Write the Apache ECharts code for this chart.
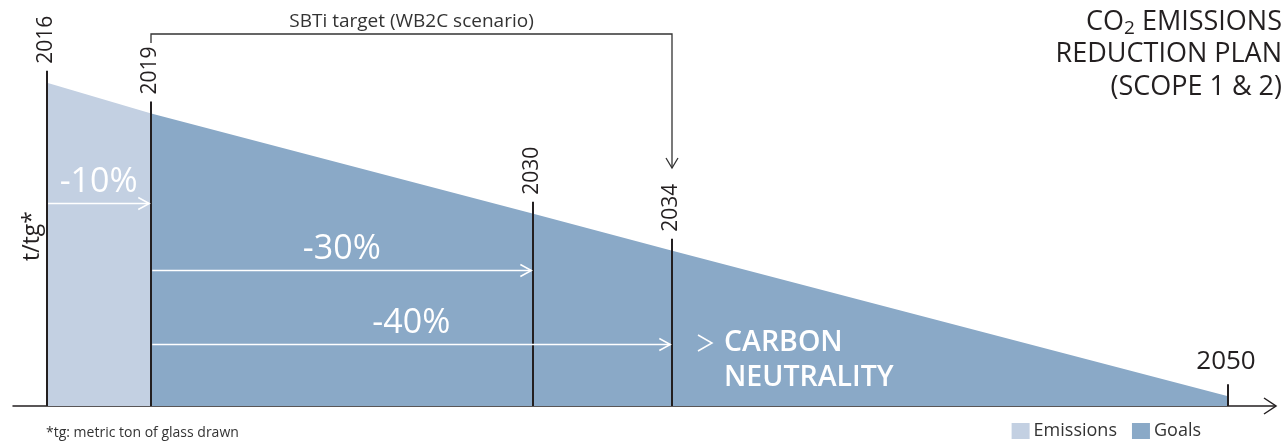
<!DOCTYPE html>
<html>
<head>
<meta charset="utf-8">
<title>CO2 emissions reduction plan</title>
<script src="https://cdn.jsdelivr.net/npm/echarts@6/dist/echarts.min.js"></script>
<style>
  html, body { margin: 0; padding: 0; background: #ffffff; }
  #chart { width: 1288px; height: 444px; }
</style>
</head>
<body>
<div id="chart"></div>
<script>
// Emissions intensity (t/tg), indexed to 2016 = 100
const emissionYears = [2016, 2019];
const emissionValues = [100, 90.5];
// Reduction goals from 2019 to carbon neutrality
const goalYears = [2019, 2030, 2034, 2050];
const goalValues = [90.5, 59.5, 48, 3];

// Milestone years drawn as vertical rules
const milestoneYears = [2016, 2019, 2030, 2034, 2050];
const milestoneLabels = ['2016', '2019', '2030', '2034', '2050'];

// Reduction arrows: start year, end year, label
const reductionFrom = [2016, 2019, 2019];
const reductionTo = [2019, 2030, 2034];
const reductionLabels = ['-10%', '-30%', '-40%'];

const seriesNames = ['Emissions', 'Goals'];
const targetLabel = 'SBTi target (WB2C scenario)';
const targetFrom = 2019;
const targetTo = 2034;
const neutralityLines = ['CARBON', 'NEUTRALITY'];
const yAxisTitle = 't/tg*';
const footnote = '*tg: metric ton of glass drawn';

// ---- styling / layout ----
const FONT = '"Open Sans", "Noto Sans", sans-serif';
const INK = '#231f20';
const LIGHT = '#c3d0e2';
const DARK = '#8aa9c7';
const GRID = { left: 13, right: 13, top: 2, bottom: 38 };
const ARROW_LEVELS = [62.8, 42.1, 19.2];   // heights of the reduction arrows (axis units)
const RULE_OVERHANG = 12;                   // rules rise above the area edge (px)

function pairs(xs, ys) { return xs.map((x, i) => [x, ys[i]]); }

// value of the area edge at a given year
const edgeLookup = {};
emissionYears.forEach((y, i) => { edgeLookup[y] = emissionValues[i]; });
goalYears.forEach((y, i) => { edgeLookup[y] = goalValues[i]; });

const chart = echarts.init(document.getElementById('chart'), null, { renderer: 'canvas' });

function chevron(tipX, tipY, len, half, dir, color, width) {
  // dir: 'right' or 'down'
  const pts = dir === 'right'
    ? [[tipX - len, tipY - half], [tipX, tipY], [tipX - len, tipY + half]]
    : [[tipX - half, tipY - len], [tipX, tipY], [tipX + half, tipY - len]];
  return { type: 'polyline', shape: { points: pts }, style: { stroke: color, lineWidth: width, fill: null } };
}

const option = {
  animation: false,
  backgroundColor: '#ffffff',
  grid: Object.assign({ outerBoundsMode: 'none', containLabel: false }, GRID),
  xAxis: {
    type: 'value',
    min: 2015.02,
    max: 2051.35,
    axisLine: { show: true, onZero: false, lineStyle: { color: INK, width: 1.5 } },
    axisTick: { show: false },
    axisLabel: { show: false },
    splitLine: { show: false }
  },
  yAxis: {
    type: 'value',
    min: 0,
    max: 125,
    show: false,
    splitLine: { show: false }
  },
  legend: {
    data: seriesNames,
    right: 87,
    top: 422,
    padding: 0,
    icon: 'rect',
    itemWidth: 18,
    itemHeight: 16,
    itemGap: 15,
    selectedMode: false,
    textStyle: { fontFamily: FONT, fontSize: 18, color: '#333333', padding: [0, 0, 0, -1] }
  },
  series: [
    {
      name: seriesNames[0],
      type: 'line',
      data: pairs(emissionYears, emissionValues),
      symbol: 'none',
      lineStyle: { width: 0, opacity: 0 },
      itemStyle: { color: LIGHT },
      areaStyle: { color: LIGHT, opacity: 1 },
      silent: true,
      z: 1
    },
    {
      name: seriesNames[1],
      type: 'line',
      data: pairs(goalYears, goalValues),
      symbol: 'none',
      lineStyle: { width: 0, opacity: 0 },
      itemStyle: { color: DARK },
      areaStyle: { color: DARK, opacity: 1 },
      silent: true,
      z: 1
    },
    {
      // milestone rules with their year labels
      type: 'custom',
      silent: true,
      z: 3,
      data: milestoneYears.map((y, i) => [y, edgeLookup[y], i]),
      renderItem: function (params, api) {
        const i = api.value(2);
        const yr = api.value(0);
        const base = api.coord([yr, 0]);
        const edge = api.coord([yr, api.value(1)]);
        const x = Math.round(base[0]);
        const top = edge[1] - RULE_OVERHANG;
        const last = i === milestoneYears.length - 1;
        const label = last
          ? { type: 'text', x: x - 2, y: top - 10,
              style: { text: milestoneLabels[i], fill: INK, fontFamily: FONT, fontSize: 26,
                       align: 'center', verticalAlign: 'bottom' } }
          : { type: 'text', x: x - 1, y: top - 7, rotation: Math.PI / 2,
              style: { text: milestoneLabels[i], fill: INK, fontFamily: FONT, fontSize: 21,
                       align: 'left', verticalAlign: 'middle' } };
        return {
          type: 'group',
          children: [
            { type: 'line', shape: { x1: x, y1: base[1], x2: x, y2: top },
              style: { stroke: INK, lineWidth: 2 } },
            label
          ]
        };
      }
    },
    {
      // white reduction arrows with percentage labels
      type: 'custom',
      silent: true,
      z: 4,
      data: reductionFrom.map((f, i) => [f, reductionTo[i], i]),
      renderItem: function (params, api) {
        const i = api.value(2);
        const p1 = api.coord([api.value(0), ARROW_LEVELS[i]]);
        const p2 = api.coord([api.value(1), ARROW_LEVELS[i]]);
        const x1 = p1[0] + 1;
        const x2 = p2[0] - 2;
        const y = Math.round(p1[1]) + 0.5;
        return {
          type: 'group',
          children: [
            { type: 'line', shape: { x1: x1, y1: y, x2: x2, y2: y },
              style: { stroke: '#ffffff', lineWidth: 1.5 } },
            chevron(x2, y, 11, 6, 'right', '#ffffff', 1.5),
            { type: 'text', x: (x1 + x2) / 2, y: y - 21,
              style: { text: reductionLabels[i], fill: '#ffffff', fontFamily: FONT, fontSize: 34,
                       fontWeight: 500, align: 'center', verticalAlign: 'middle' } }
          ]
        };
      }
    }
  ]
};

chart.setOption(option);

// annotations anchored to the axes
const px = (yr) => chart.convertToPixel({ gridIndex: 0 }, [yr, 0]);
const xFrom = Math.round(px(targetFrom)[0]);
const xTo = Math.round(px(targetTo)[0]);
const axisEnd = px(2051.35);
const baseY = axisEnd[1];

chart.setOption({
  graphic: [
    // axis arrow head
    Object.assign(chevron(axisEnd[0] + 1, baseY, 12, 8, 'right', INK, 1.5), { z: 10 }),
    // SBTi bracket
    { type: 'polyline', z: 10,
      shape: { points: [[xFrom, 43], [xFrom, 34], [xTo, 34], [xTo, 168]] },
      style: { stroke: '#333333', lineWidth: 1.3, fill: null } },
    Object.assign(chevron(xTo, 168, 10, 6, 'down', '#333333', 1.3), { z: 10 }),
    { type: 'text', z: 10, x: (xFrom + xTo) / 2, y: 22,
      style: { text: targetLabel, fill: '#333333', fontFamily: FONT, fontSize: 19,
               align: 'center', verticalAlign: 'middle' } },
    // carbon neutrality callout
    Object.assign(chevron(xTo + 40, 343, 14, 8, 'right', '#ffffff', 1.5), { z: 10 }),
    { type: 'text', z: 10, x: xTo + 52, y: 343,
      style: { text: neutralityLines[0], fill: '#ffffff', fontFamily: FONT, fontSize: 28.5,
               fontWeight: 600, align: 'left', verticalAlign: 'middle' } },
    { type: 'text', z: 10, x: xTo + 52, y: 378,
      style: { text: neutralityLines[1], fill: '#ffffff', fontFamily: FONT, fontSize: 28.5,
               fontWeight: 600, align: 'left', verticalAlign: 'middle' } },
    // y axis unit
    { type: 'text', z: 10, x: 32, y: 236, rotation: Math.PI / 2,
      style: { text: yAxisTitle, fill: INK, fontFamily: FONT, fontSize: 23,
               align: 'center', verticalAlign: 'middle' } },
    // title
    { type: 'text', z: 10, x: 1282, y: 54.5,
      style: {
        text: '{a|CO}{b|2}{a| EMISSIONS}\n{a|REDUCTION PLAN}\n{a|(SCOPE 1 & 2)}',
        align: 'right', verticalAlign: 'middle',
        rich: {
          a: { fontFamily: FONT, fontSize: 27, lineHeight: 32.5, fill: INK },
          b: { fontFamily: FONT, fontSize: 19, lineHeight: 24, fill: INK, verticalAlign: 'bottom' }
        }
      } },
    // footnote
    { type: 'text', z: 10, x: 46, y: 433,
      style: { text: footnote, fill: '#333333', fontFamily: FONT, fontSize: 14,
               align: 'left', verticalAlign: 'middle' } }
  ]
});
</script>
</body>
</html>
